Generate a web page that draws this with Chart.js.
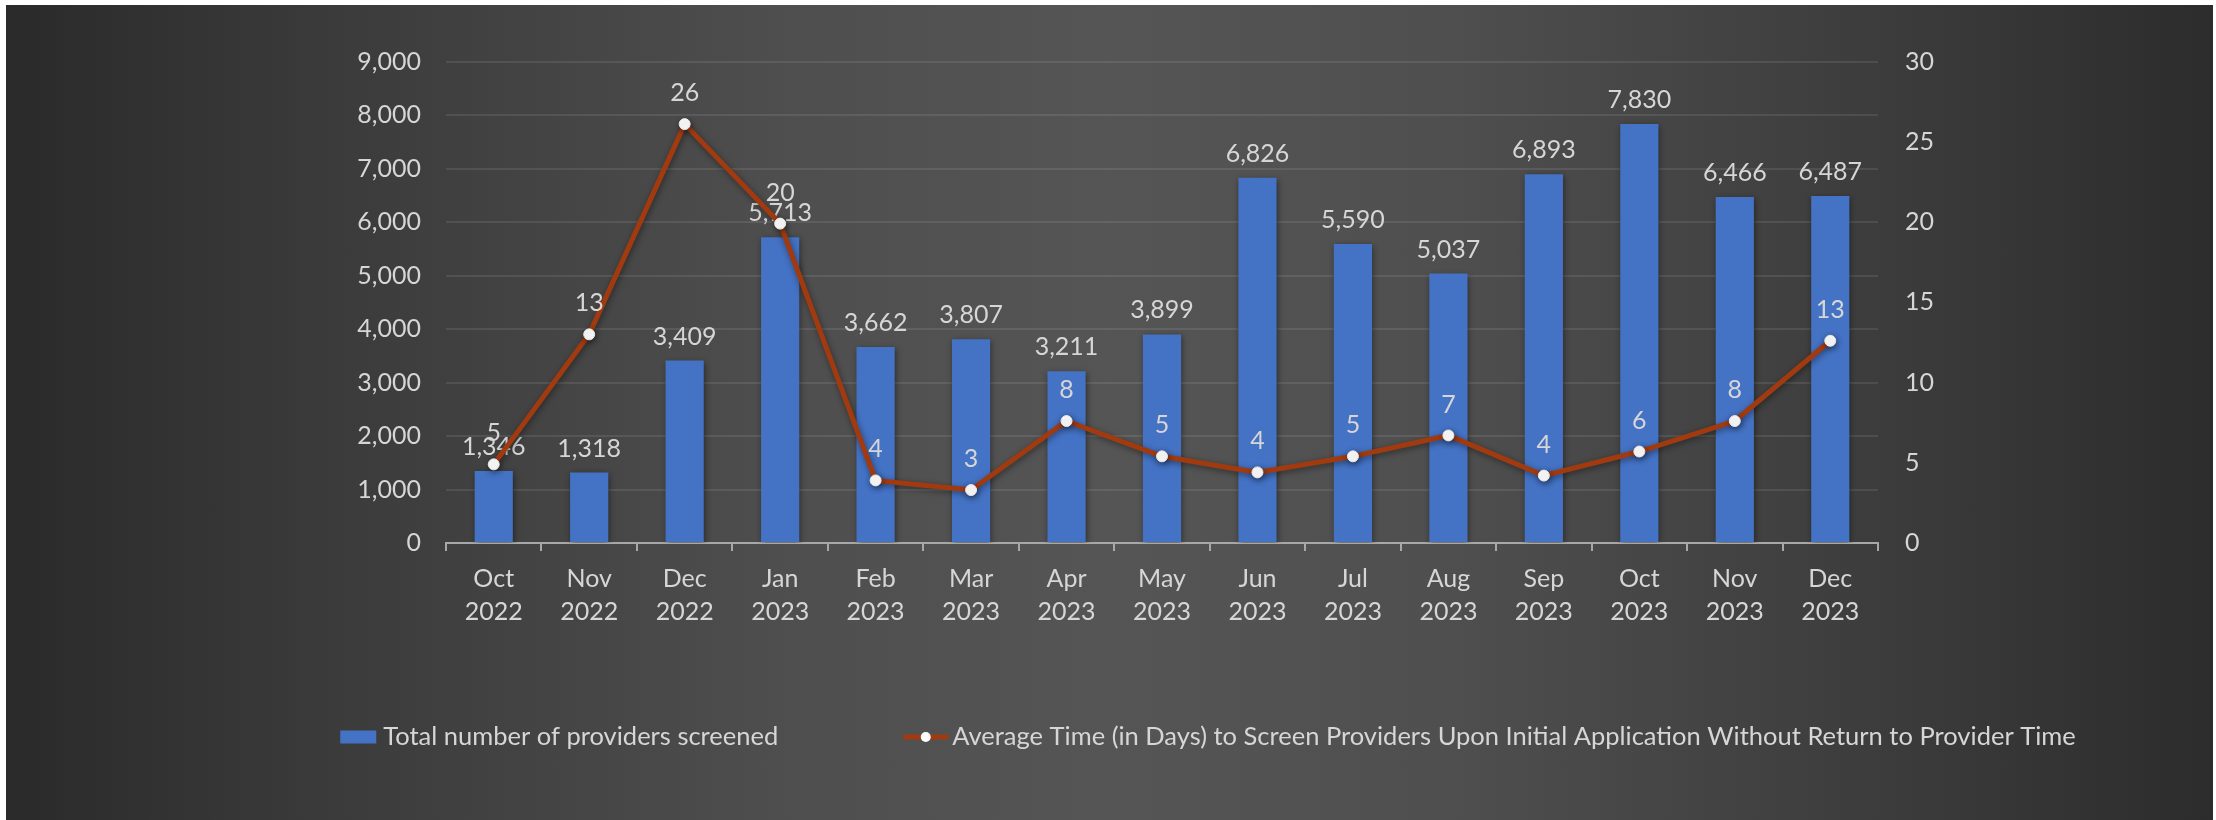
<!DOCTYPE html>
<html>
<head>
<meta charset="utf-8">
<script src="https://cdn.jsdelivr.net/npm/chart.js@4.4.0/dist/chart.umd.min.js"></script>
<style>
  html, body { margin: 0; padding: 0; background: #fff; overflow: hidden; }
  #bg {
    position: absolute; left: 6px; top: 5px; width: 2207px; height: 815px;
    background: linear-gradient(90deg, #2a2a2a 0%, #3a3a3a 14%, #4e4e4e 35%, #555 50%, #4f4f4f 65%, #3b3b3b 86%, #2c2c2c 100%);
  }
  #place__graph1 { position: absolute; left: 0; top: 0; }
</style>
</head>
<body>
<div id="bg"></div>
<canvas id="place__graph1" width="2216" height="820"></canvas>
<script>
const months = [
  ['Oct', '2022'], ['Nov', '2022'], ['Dec', '2022'], ['Jan', '2023'], ['Feb', '2023'],
  ['Mar', '2023'], ['Apr', '2023'], ['May', '2023'], ['Jun', '2023'], ['Jul', '2023'],
  ['Aug', '2023'], ['Sep', '2023'], ['Oct', '2023'], ['Nov', '2023'], ['Dec', '2023']
];
const providersScreened = [1346, 1318, 3409, 5713, 3662, 3807, 3211, 3899, 6826, 5590, 5037, 6893, 7830, 6466, 6487];
const avgDays = [4.9, 13.0, 26.1, 19.9, 3.9, 3.3, 7.6, 5.4, 4.4, 5.4, 6.7, 4.2, 5.7, 7.6, 12.6];

const barLabel = 'Total number of providers screened';
const lineLabel = 'Average Time (in Days) to Screen Providers Upon Initial Application Without Return to Provider Time';

const FONT = 'Lato';
const TEXT = '#d6d6d6';
const BAR_COLOR = '#4472C4';
const LINE_COLOR = '#A23A10';

// shadow under bars/line + value labels drawn right after each dataset
const valueLabels = {
  id: 'valueLabels',
  beforeDatasetDraw(chart, args) {
    const ctx = chart.ctx;
    ctx.save();
    ctx.shadowColor = 'rgba(0,0,0,0.45)';
    ctx.shadowBlur = 6;
    ctx.shadowOffsetX = 1;
    ctx.shadowOffsetY = 2;
  },
  afterDatasetDraw(chart, args) {
    const ctx = chart.ctx;
    ctx.restore();
    const ds = chart.data.datasets[args.index];
    const isLine = ds.type === 'line';
    ctx.save();
    ctx.font = `25px ${FONT}`;
    ctx.fillStyle = TEXT;
    ctx.textAlign = 'center';
    ctx.textBaseline = 'middle';
    args.meta.data.forEach((el, i) => {
      const v = ds.data[i];
      const txt = isLine ? String(Math.round(v)) : v.toLocaleString('en-US');
      ctx.fillText(txt, el.x, el.y - (isLine ? 31 : 24));
    });
    ctx.restore();
  }
};

// legend drawn under the axis, centred like the original
const bottomLegend = {
  id: 'bottomLegend',
  afterDraw(chart) {
    const ctx = chart.ctx;
    const cy = 737;
    const centerX = 1208;
    const gap = 125;
    ctx.save();
    ctx.font = `25.5px ${FONT}`;
    ctx.textBaseline = 'middle';
    ctx.textAlign = 'left';
    const w1 = ctx.measureText(barLabel).width;
    const w2 = ctx.measureText(lineLabel).width;
    const total = 36 + 7 + w1 + gap + 45 + 4 + w2;
    let x = centerX - total / 2;
    ctx.fillStyle = BAR_COLOR;
    ctx.fillRect(x, cy - 6.5, 36, 13);
    x += 43;
    ctx.fillStyle = TEXT;
    ctx.fillText(barLabel, x, cy);
    x += w1 + gap;
    ctx.strokeStyle = LINE_COLOR;
    ctx.lineWidth = 5;
    ctx.beginPath();
    ctx.moveTo(x, cy);
    ctx.lineTo(x + 45, cy);
    ctx.stroke();
    ctx.fillStyle = '#fff';
    ctx.beginPath();
    ctx.arc(x + 22.5, cy, 5, 0, Math.PI * 2);
    ctx.fill();
    x += 49;
    ctx.fillStyle = TEXT;
    ctx.fillText(lineLabel, x, cy);
    ctx.restore();
  }
};

const ctx = document.getElementById('place__graph1').getContext('2d');
const chart = new Chart(ctx, {
  data: {
    labels: months,
    datasets: [{
      type: 'bar',
      label: barLabel,
      data: providersScreened,
      backgroundColor: BAR_COLOR,
      barPercentage: 0.4,
      categoryPercentage: 1,
      yAxisID: 'y',
      order: 1
    }, {
      type: 'line',
      label: lineLabel,
      data: avgDays,
      borderColor: LINE_COLOR,
      borderWidth: 5,
      pointRadius: 5.5,
      pointBackgroundColor: '#ffffff',
      pointBorderColor: '#e8e8e8',
      pointBorderWidth: 1,
      tension: 0,
      yAxisID: 'y1',
      order: 0
    }]
  },
  options: {
    responsive: false,
    animation: false,
    layout: { padding: { top: 61.5, bottom: 107, left: 0, right: 0 } },
    plugins: {
      legend: { display: false },
      tooltip: { enabled: false }
    },
    scales: {
      x: {
        afterFit(scale) { scale.height = 170; },
        grid: { drawOnChartArea: false, color: '#a8a8a8', lineWidth: 2, tickLength: 8 },
        border: { color: '#a8a8a8', width: 2 },
        ticks: {
          color: TEXT, font: { family: FONT, size: 25, lineHeight: 1.3 },
          padding: 12, maxRotation: 0, autoSkip: false
        }
      },
      y: {
        position: 'left',
        min: 0, max: 9000,
        afterFit(scale) { scale.width = 446; },
        grid: { color: 'rgba(255,255,255,0.09)', lineWidth: 2, drawTicks: false },
        border: { display: false },
        ticks: {
          stepSize: 1000, color: TEXT, padding: 25,
          font: { family: FONT, size: 25 },
          callback: v => v.toLocaleString('en-US')
        }
      },
      y1: {
        position: 'right',
        min: 0, max: 30,
        afterFit(scale) { scale.width = 338; },
        grid: { drawOnChartArea: false, drawTicks: false },
        border: { display: false },
        ticks: {
          stepSize: 5, color: TEXT, padding: 27,
          font: { family: FONT, size: 25 }
        }
      }
    }
  },
  plugins: [valueLabels, bottomLegend]
});
</script>
</body>
</html>
